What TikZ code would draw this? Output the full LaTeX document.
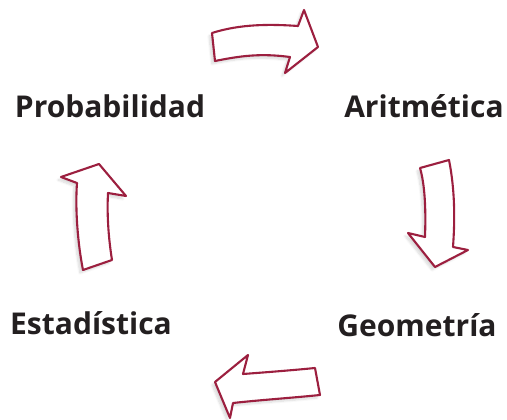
\documentclass[tikz,border=0pt]{standalone}
\usepackage{fontspec}
\setmainfont{Open Sans}
\usepackage{tikz}
\usetikzlibrary{shadows.blur}

\definecolor{vino}{HTML}{9C1F3F}
\definecolor{texto}{HTML}{231F20}

\tikzset{
    flecha/.style={draw=vino, line width=2.1pt, line join=round, fill=white,
        blur shadow={shadow xshift=-3pt, shadow yshift=-3pt, shadow blur steps=8, shadow opacity=15}},
    rama/.style={text=texto, font=\fontsize{30}{34}\selectfont\bfseries, inner sep=0pt}
}

\begin{document}
\begin{tikzpicture}[x=1pt, y=-1pt]
    \useasboundingbox (0,0) rectangle (507,420);
    % las cuatro ramas
    \node[rama] (prob) at (110,106) {Probabilidad};
    \node[rama] (arit) at (424,106) {Aritmética};
    \node[rama] (geom) at (417,325) {Geometría};
    \node[rama] (esta) at (91,323) {Estadística};
    % flecha de arriba
    \draw[flecha] (212,33) .. controls (240,24) and (270,24) .. (298,26) -- (304,10)
        -- (318,47) -- (285,73) -- (290,57) .. controls (260,53) and (240,56) .. (215,61) -- cycle;
    % flecha de la derecha
    \draw[flecha] (420,168) -- (449,160) .. controls (455,190) and (455,220) .. (453,247)
        -- (468,250) -- (435,267) -- (408,233) -- (425,237) .. controls (426,210) and (425,185) .. (420,168) -- cycle;
    % flecha de abajo
    \draw[flecha] (315,368) -- (320,395) .. controls (290,398) and (260,400) .. (233,403)
        -- (230,418) -- (215,382) -- (248,355) -- (243,374) .. controls (270,372) and (295,370) .. (315,368) -- cycle;
    % flecha de la izquierda
    \draw[flecha] (83,270) -- (112,260) .. controls (108,235) and (107,212) .. (108,193)
        -- (126,196) -- (99,164) -- (61,177) -- (77,183) .. controls (75,210) and (78,245) .. (83,270) -- cycle;
\end{tikzpicture}
\end{document}
